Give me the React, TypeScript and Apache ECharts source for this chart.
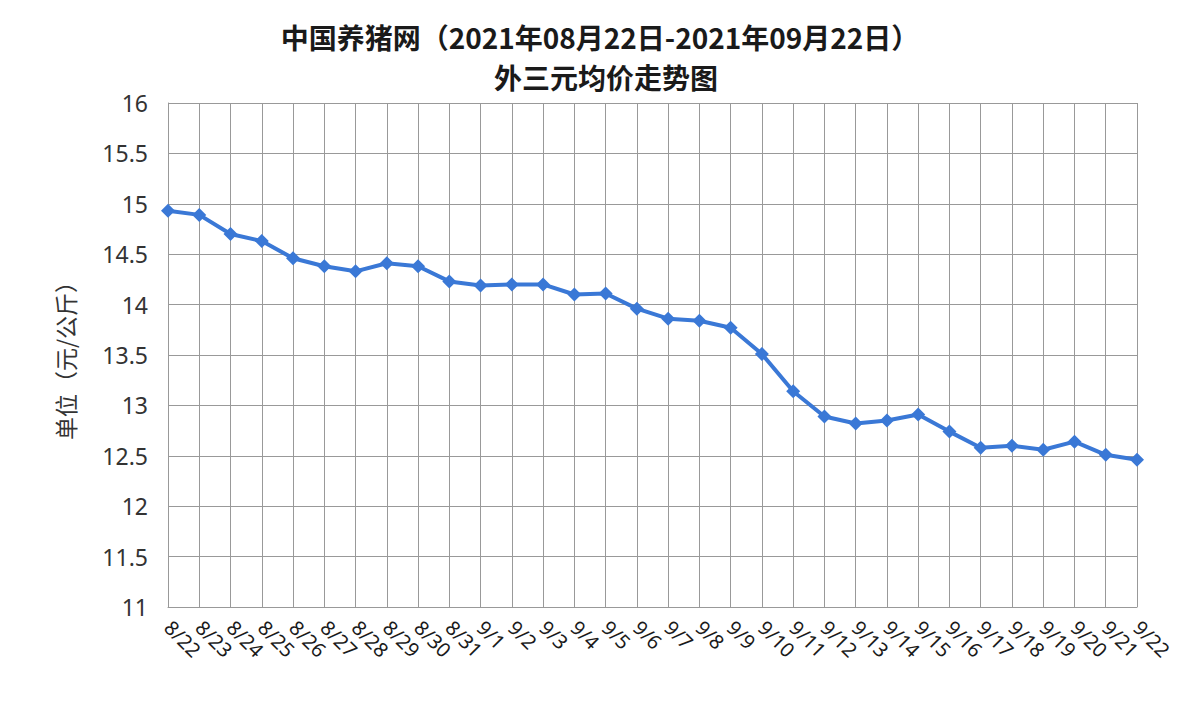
import React, { useEffect, useRef } from "react";
import * as echarts from "echarts";

const categories = [
  "8/22", "8/23", "8/24", "8/25", "8/26", "8/27", "8/28", "8/29", "8/30", "8/31",
  "9/1", "9/2", "9/3", "9/4", "9/5", "9/6", "9/7", "9/8", "9/9", "9/10",
  "9/11", "9/12", "9/13", "9/14", "9/15", "9/16", "9/17", "9/18", "9/19", "9/20",
  "9/21", "9/22",
];

const prices = [
  14.93, 14.89, 14.70, 14.63, 14.46, 14.38, 14.33, 14.41, 14.38, 14.23,
  14.19, 14.20, 14.20, 14.10, 14.11, 13.96, 13.86, 13.84, 13.77, 13.51,
  13.14, 12.89, 12.82, 12.85, 12.91, 12.74, 12.58, 12.60, 12.56, 12.64,
  12.51, 12.46,
];

const titleLine1 = "中国养猪网（2021年08月22日-2021年09月22日）";
const titleLine2 = "外三元均价走势图";
const yAxisName = "单位（元/公斤）";

export default function App() {
  const ref = useRef<HTMLDivElement>(null);

  useEffect(() => {
    if (!ref.current) return;
    const chart = echarts.init(ref.current, undefined, { renderer: "svg" });
    const titleStyle = {
      fontFamily: "Noto Sans CJK SC",
      fontSize: 28,
      fontWeight: "bold",
      fill: "#1a1a1a",
      textAlign: "center",
      textVerticalAlign: "middle",
    };
    chart.setOption({
      animation: false,
      backgroundColor: "#ffffff",
      graphic: [
        { type: "text", x: 600, y: 37, style: { ...titleStyle, text: titleLine1 } },
        { type: "text", x: 606, y: 77, style: { ...titleStyle, text: titleLine2 } },
      ],
      grid: { left: 168, right: 63, top: 103, bottom: 103 },
      xAxis: {
        type: "category",
        data: categories,
        boundaryGap: false,
        axisLine: { show: true, lineStyle: { color: "#999", width: 1 } },
        axisTick: { show: false },
        splitLine: { show: true, interval: 0, lineStyle: { color: "#999", width: 1 } },
        axisLabel: {
          interval: 0,
          rotate: -45,
          margin: 17,
          fontSize: 20,
          color: "#1a1a1a",
          fontFamily: "Noto Sans",
        },
      },
      yAxis: {
        type: "value",
        min: 11,
        max: 16,
        interval: 0.5,
        name: yAxisName,
        nameLocation: "middle",
        nameGap: 92,
        nameRotate: 90,
        nameTextStyle: {
          fontSize: 23,
          color: "#333",
          fontFamily: "Noto Sans CJK SC",
        },
        axisLine: { show: true, lineStyle: { color: "#999", width: 1 } },
        axisTick: { show: false },
        splitLine: { show: true, lineStyle: { color: "#999", width: 1 } },
        axisLabel: {
          margin: 20,
          fontSize: 23,
          color: "#333",
          fontFamily: "Noto Sans",
        },
      },
      series: [
        {
          type: "line",
          data: prices,
          symbol: "diamond",
          symbolSize: 14,
          lineStyle: { color: "#3a78d6", width: 4 },
          itemStyle: { color: "#3a78d6" },
        },
      ],
    });
    return () => chart.dispose();
  }, []);

  return (
    <div
      ref={ref}
      style={{ position: "fixed", left: 0, top: 0, width: 1200, height: 710 }}
    />
  );
}
